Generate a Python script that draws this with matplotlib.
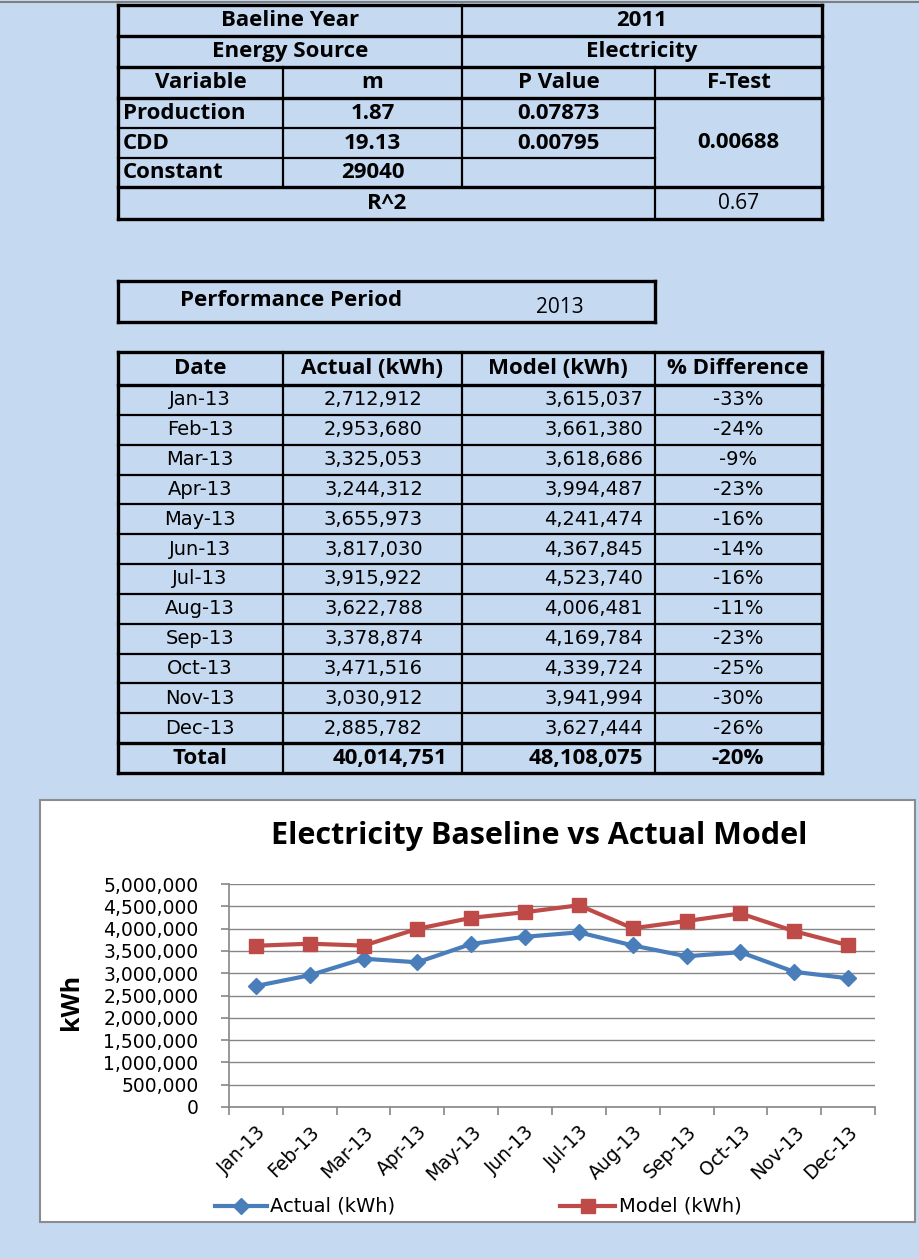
import matplotlib
matplotlib.use("Agg")
import matplotlib.pyplot as plt
from matplotlib.ticker import FuncFormatter, FixedLocator

# ---------------- data ----------------
baseline_label = ["Baeline Year", "Energy Source"]
baseline_value = ["2011", "Electricity"]
reg_header = ["Variable", "m", "P Value", "F-Test"]
reg_vars = ["Production", "CDD", "Constant"]
reg_m = ["1.87", "19.13", "29040"]
reg_p = ["0.07873", "0.00795", ""]
f_test = "0.00688"
r_squared = "0.67"
performance_period = "2013"

table_header = ["Date", "Actual (kWh)", "Model (kWh)", "% Difference"]
months = ["Jan-13", "Feb-13", "Mar-13", "Apr-13", "May-13", "Jun-13",
          "Jul-13", "Aug-13", "Sep-13", "Oct-13", "Nov-13", "Dec-13"]
actual_kwh = [2712912, 2953680, 3325053, 3244312, 3655973, 3817030,
              3915922, 3622788, 3378874, 3471516, 3030912, 2885782]
model_kwh = [3615037, 3661380, 3618686, 3994487, 4241474, 4367845,
             4523740, 4006481, 4169784, 4339724, 3941994, 3627444]
pct_diff = ["-33%", "-24%", "-9%", "-23%", "-16%", "-14%",
            "-16%", "-11%", "-23%", "-25%", "-30%", "-26%"]
total_actual = "40,014,751"
total_model = "48,108,075"
total_pct = "-20%"

chart_title = "Electricity Baseline vs Actual Model"
y_label = "kWh"
y_ticks = [0, 500000, 1000000, 1500000, 2000000, 2500000, 3000000,
           3500000, 4000000, 4500000, 5000000]
series_names = ["Actual (kWh)", "Model (kWh)"]

# ---------------- style ----------------
BG = "#C5D9F1"
BLUE = "#4A7EBB"
RED = "#BE4B48"
GRID = "#868686"
HF = "Open Sans"     # Calibri-like headers
DF = "DejaVu Sans"   # Verdana-like data
HS = 16              # header font size
DS = 14              # data font size

W, H = 920, 1259
fig = plt.figure(figsize=(W / 100, H / 100), dpi=100, facecolor=BG)
bg = fig.add_axes([0, 0, 1, 1])
bg.set_xlim(0, W)
bg.set_ylim(H, 0)
bg.axis("off")
bg.set_facecolor(BG)


def hline(x0, x1, y, lw=2.0, color="black"):
    bg.plot([x0, x1], [y, y], color=color, lw=lw, solid_capstyle="projecting")


def vline(x, y0, y1, lw=2.0, color="black"):
    bg.plot([x, x], [y0, y1], color=color, lw=lw, solid_capstyle="projecting")


def txt(x, y, s, ha="center", bold=True, size=HS, family=HF, **kw):
    bg.text(x, y, s, ha=ha, va="center", fontsize=size,
            fontweight="bold" if bold else "normal", family=family, **kw)


# top grey edge
hline(0, W, 2, lw=1.5, color="#7F7F7F")

# ---------------- regression table ----------------
L, R = 118, 822
c1, c2, c3 = 283, 462, 655
ry = [5, 36, 67, 98, 128, 158, 187, 219]
TK, TN = 2.4, 1.6
for y in [5, 36, 67, 98, 187, 219]:
    hline(L, R, y, lw=TK)
for y in [128, 158]:
    hline(L, c3, y, lw=TN)
vline(L, 5, 219, lw=TK)
vline(R, 5, 219, lw=TK)
vline(c2, 5, 187, lw=TN)
vline(c1, 67, 187, lw=TN)
vline(c3, 67, 219, lw=TN)

for i in range(2):
    yc = (ry[i] + ry[i + 1]) / 2
    txt((L + c2) / 2, yc, baseline_label[i])
    txt((c2 + R) / 2, yc, baseline_value[i])
yc = (ry[2] + ry[3]) / 2
for x, s in zip([(L + c1) / 2, (c1 + c2) / 2, (c2 + c3) / 2, (c3 + R) / 2], reg_header):
    txt(x, yc, s)
for i in range(3):
    yc = (ry[3 + i] + ry[4 + i]) / 2
    txt(L + 5, yc, reg_vars[i], ha="left")
    txt((c1 + c2) / 2, yc, reg_m[i])
    if reg_p[i]:
        txt((c2 + c3) / 2, yc, reg_p[i])
txt((c3 + R) / 2, (98 + 187) / 2, f_test)
txt((L + c3) / 2, (187 + 219) / 2, "R^2")
txt((c3 + R) / 2, (187 + 219) / 2, r_squared, bold=False, size=15)

# ---------------- performance period ----------------
hline(L, c3, 281, lw=TK)
hline(L, c3, 322, lw=TK)
vline(L, 281, 322, lw=TK)
vline(c3, 281, 322, lw=TK)
txt(291, 300, "Performance Period")
txt(560, 307, performance_period, bold=False, size=15)

# ---------------- monthly table ----------------
top, hb = 352, 385
rh = (743 - 385) / 12
tb = 773
hline(L, R, top, lw=TK)
hline(L, R, hb, lw=TK)
for i in range(1, 12):
    hline(L, R, hb + i * rh, lw=TN)
hline(L, R, 743, lw=TK)
hline(L, R, tb, lw=TK)
vline(L, top, tb, lw=TK)
vline(R, top, tb, lw=TK)
for x in [c1, c2, c3]:
    vline(x, top, tb, lw=TN)

for x, s in zip([200, 372, 558, 738], table_header):
    txt(x, (top + hb) / 2, s)
for i, m in enumerate(months):
    yc = hb + (i + 0.5) * rh
    txt(200, yc, m, bold=False, family=DF, size=DS)
    txt(423, yc, f"{actual_kwh[i]:,}", ha="right", bold=False, family=DF, size=DS)
    txt(643, yc, f"{model_kwh[i]:,}", ha="right", bold=False, family=DF, size=DS)
    txt(738, yc, pct_diff[i], bold=False, family=DF, size=DS)
yc = (743 + tb) / 2
txt(200, yc, "Total")
txt(447, yc, total_actual, ha="right")
txt(643, yc, total_model, ha="right")
txt(738, yc, total_pct)

# ---------------- chart box ----------------
bg.add_patch(plt.Rectangle((40, 800), 875, 422, facecolor="white",
                           edgecolor="#8C8C8C", lw=1.5))
txt(539, 836, chart_title, size=22)
bg.text(72, 1002, y_label, rotation=90, ha="center", va="center",
        fontsize=18, fontweight="bold", family=HF)

# legend (drawn manually in chart box)
bg.plot([215, 267], [1206, 1206], color=BLUE, lw=3)
bg.plot([241], [1206], marker="D", ms=8, color=BLUE, lw=0)
txt(270, 1206, series_names[0], ha="left", bold=False, family=DF, size=DS)
bg.plot([560, 615], [1206, 1206], color=RED, lw=3)
bg.plot([588], [1206], marker="s", ms=9.5, color=RED, lw=0)
txt(619, 1206, series_names[1], ha="left", bold=False, family=DF, size=DS)

# ---------------- line chart ----------------
ax = fig.add_axes([229 / W, 1 - 1107 / H, (875 - 229) / W, (1107 - 884) / H])
ax.set_facecolor("none")
x = list(range(len(months)))
ax.plot(x, actual_kwh, color=BLUE, lw=3, marker="D", ms=8, zorder=3)
ax.plot(x, model_kwh, color=RED, lw=3, marker="s", ms=9.5, zorder=3)
ax.set_xlim(-0.5, len(months) - 0.5)
ax.set_ylim(0, 5000000)
ax.yaxis.set_major_locator(FixedLocator(y_ticks))
ax.yaxis.set_major_formatter(FuncFormatter(lambda v, p: f"{int(v):,}"))
ax.grid(axis="y", color=GRID, lw=1.0)
ax.set_axisbelow(True)
for s in ["top", "right"]:
    ax.spines[s].set_visible(False)
for s in ["left", "bottom"]:
    ax.spines[s].set_color(GRID)
    ax.spines[s].set_linewidth(1.2)
ax.set_xticks(x)
ax.set_xticklabels(months, rotation=45, ha="right", rotation_mode="anchor",
                   fontsize=13.5, family=DF)
ax.set_xticks([i - 0.5 for i in range(len(months) + 1)], minor=True)
ax.tick_params(axis="x", which="major", length=0, pad=11)
ax.tick_params(axis="x", which="minor", length=6, color=GRID, width=1.2)
ax.tick_params(axis="y", length=6, color=GRID, width=1.2, pad=16, labelsize=13.5)
for lab in ax.get_yticklabels():
    lab.set_family(DF)

fig.savefig("out.png", dpi=100, facecolor=BG)
